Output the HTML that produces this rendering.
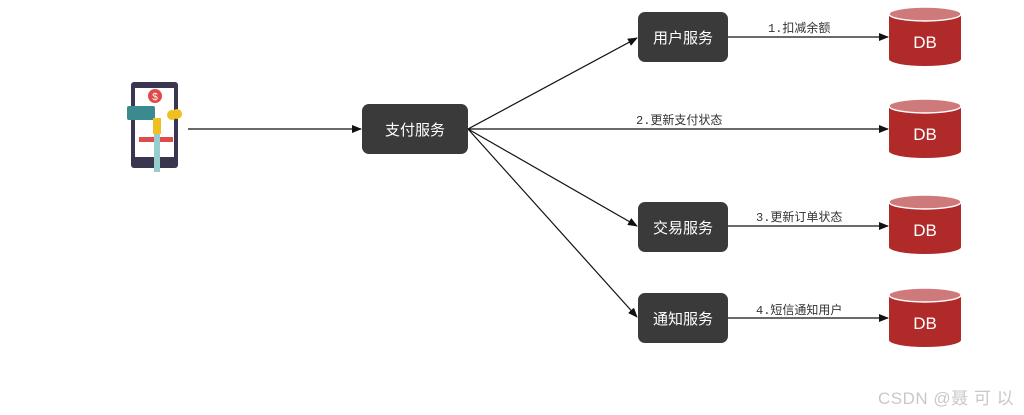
<!DOCTYPE html>
<html><head><meta charset="utf-8"><style>
html,body{margin:0;padding:0;background:#fff;width:1024px;height:415px;overflow:hidden}
svg text{font-family:"Liberation Sans","Noto Sans CJK SC",sans-serif}
</style></head><body>
<svg width="1024" height="415" viewBox="0 0 1024 415" xmlns="http://www.w3.org/2000/svg">
<defs>
<marker id="a" markerWidth="10" markerHeight="8" refX="9" refY="4" orient="auto" markerUnits="userSpaceOnUse">
<path d="M0,0 L10,4 L0,8 Z" fill="#111"/></marker>
<g id="db">
<path d="M0,7 L0,52 A36,7 0 0 0 72,52 L72,7 Z" fill="#b02a2a"/>
<ellipse cx="36" cy="7" rx="36" ry="7" fill="#cf7a7a" stroke="#fff" stroke-width="1.5"/>
<text x="36" y="41" font-size="17" fill="#fff" text-anchor="middle">DB</text>
</g>
</defs>
<rect x="131" y="82" width="47" height="86" rx="3" fill="#3a3650"/>
<rect x="135" y="88" width="39" height="69" fill="#fff"/>
<circle cx="155" cy="96" r="7" fill="#e04a4a"/>
<text x="155" y="100" font-size="10" fill="#fff" text-anchor="middle">$</text>
<rect x="127" y="106" width="28" height="14" rx="2" fill="#3a8a90"/>
<circle cx="172" cy="115" r="5" fill="#f0c020"/><circle cx="177" cy="114" r="5" fill="#f0c020"/>
<rect x="139" y="137" width="34" height="5" fill="#e04a4a"/>
<rect x="153" y="118" width="8" height="16" fill="#f0c020"/>
<rect x="154" y="134" width="6" height="38" fill="#9cc"/>
<g stroke="#111" stroke-width="1.2" fill="none">
<line x1="188" y1="129" x2="361" y2="129" marker-end="url(#a)"/>
<line x1="468" y1="129" x2="637" y2="38" marker-end="url(#a)"/>
<line x1="468" y1="129" x2="888" y2="129" marker-end="url(#a)"/>
<line x1="468" y1="129" x2="637" y2="226" marker-end="url(#a)"/>
<line x1="468" y1="129" x2="637" y2="317" marker-end="url(#a)"/>
<line x1="728" y1="37" x2="888" y2="37" marker-end="url(#a)"/>
<line x1="728" y1="226" x2="888" y2="226" marker-end="url(#a)"/>
<line x1="728" y1="318" x2="888" y2="318" marker-end="url(#a)"/>
</g>
<g fill="#3a3a3a">
<rect x="362" y="104" width="106" height="50" rx="7"/>
<rect x="638" y="12" width="90" height="50" rx="7"/>
<rect x="638" y="202" width="90" height="50" rx="7"/>
<rect x="638" y="293" width="90" height="50" rx="7"/>
</g>
<g fill="#fff" font-size="15" text-anchor="middle">
<text x="415" y="135">支付服务</text>
<text x="683" y="43">用户服务</text>
<text x="683" y="233">交易服务</text>
<text x="683" y="324">通知服务</text>
</g>
<g fill="#333" font-size="12">
<text x="768" y="32" style="font-family:'Liberation Mono','Noto Sans CJK SC',monospace">1.扣减余额</text>
<text x="636" y="124" style="font-family:'Liberation Mono','Noto Sans CJK SC',monospace">2.更新支付状态</text>
<text x="756" y="221" style="font-family:'Liberation Mono','Noto Sans CJK SC',monospace">3.更新订单状态</text>
<text x="756" y="314" style="font-family:'Liberation Mono','Noto Sans CJK SC',monospace">4.短信通知用户</text>
</g>
<use href="#db" x="889" y="7"/>
<use href="#db" x="889" y="99"/>
<use href="#db" x="889" y="195"/>
<use href="#db" x="889" y="288"/>
<text x="878" y="404" font-size="17" letter-spacing="0.5" fill="#c8c8c8">CSDN @聂 可 以</text>
</svg>
</body></html>
